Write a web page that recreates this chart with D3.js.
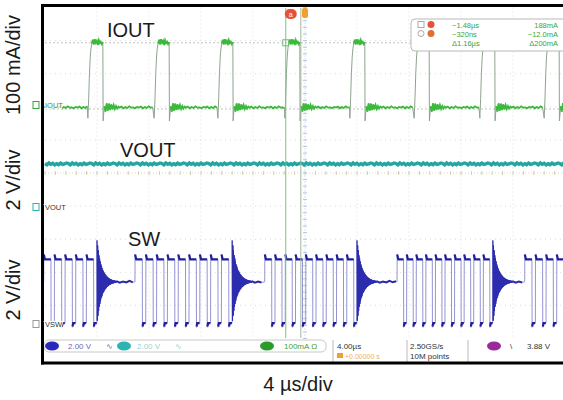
<!DOCTYPE html>
<html><head><meta charset="utf-8">
<script src="https://cdn.jsdelivr.net/npm/d3@7"></script>
<style>body{margin:0;background:#fff} svg{display:block}</style>
</head><body>
<svg id="c" width="563" height="400"></svg>
<script>
// ---------------- data ----------------
const timeDomain = [-20, 20];          // µs (10 div × 4 µs)
const divDomain = [-5, 5];             // vertical divisions
const axisLabels = ["100 mA/div", "2 V/div", "2 V/div"];
const xAxisLabel = "4 µs/div";
const traceNames = ["IOUT", "VOUT", "SW"];
const markerNames = ["IOUT", "VOUT", "VSW"];

// IOUT (mA)
const iPulseStart = [-16.7, -11.6, -6.7, -1.55, 3.45, 8.4, 13.45, 18.4];
const iPulseWidth = 1.15;
const iRiseProfile = [-40, 20, 95, 145, 172, 186];          // step 0.06 µs
const iTopNoise = [186, 197, 183, 199, 188, 194, 181, 196, 187, 191, 184, 190];
const iFallRing = [-48, -4, -20, 5, -17, 4, -15, 2, -13, 0, -12, -3, -11, -5]; // step 0.09 µs
const iBaseNoise = [-8, -5, -10, -6, -9, -4, -8, -7, -10, -6];

// VOUT (V)
const vLevel = 2.6;
const vNoise = [0.03, -0.05, 0.06, -0.02, 0.04, -0.06, 0.02, -0.04, 0.05, -0.03, 0.0, 0.06];

// SW (V)
const swBurstStart = [-20.1, -13.08, -3.1, 7.08, 16.9];
const swBurstEnd   = [-16.0, -5.6, 4.0, 14.45, 21.0];
const swPulseCount = [5, 9, 9, 10, 5];
const swHigh = 3.9, swLow = 0.05, swSettle = 2.55, swDuty = 0.68;
const swRingEnv = [2.5, 1.6, 1.05, 0.7, 0.48, 0.33, 0.22, 0.15, 0.1, 0.07, 0.05]; // step 0.15 µs
const swSettleNoise = [0.04, -0.05, 0.02, -0.04, 0.06, -0.03, 0.03, -0.06];

// cursors & readouts
const cursorT = [-1.48, -0.32];
const cursorI = [188, -12];
const cursorRows = [["−1.48µs", "188mA"], ["−320ns", "−12.0mA"], ["Δ1.16µs", "Δ200mA"]];
const statusText = ["2.00 V", "2.00 V", "100mA Ω", "4.00µs", "+0.00000 s", "2.50GS/s", "10M points", "3.88 V"];

// ---------------- scales ----------------
const svg = d3.select("#c");
const FONT = "'Liberation Sans', Arial, Helvetica, sans-serif";
const x = d3.scaleLinear().domain(timeDomain).range([45, 565]);
const yDiv = d3.scaleLinear().domain(divDomain).range([338.5, 7.5]);
const yI = d3.scaleLinear().domain([0, 100]).range([105, 105 - 33.1]);
const yV = d3.scaleLinear().domain([0, 2]).range([207, 207 - 33.1]);
const yS = d3.scaleLinear().domain([0, 2]).range([324, 324 - 33.1]);

svg.append("defs").append("clipPath").attr("id", "clip")
  .append("rect").attr("x", 44).attr("y", 7).attr("width", 520).attr("height", 332);

// ---------------- grid ----------------
const grid = svg.append("g");
d3.range(-16, 20, 4).forEach(t => {
  if (t === 0) return;
  grid.append("line").attr("x1", x(t)).attr("x2", x(t)).attr("y1", yDiv(5)).attr("y2", yDiv(-5))
    .attr("stroke", "#dadada").attr("stroke-dasharray", "1,3");
});
d3.range(-4, 5, 1).forEach(d => {
  if (d === 0) return;
  grid.append("line").attr("x1", x(-20)).attr("x2", x(20)).attr("y1", yDiv(d)).attr("y2", yDiv(d))
    .attr("stroke", "#dadada").attr("stroke-dasharray", "1,4");
});
grid.append("line").attr("x1", x(-20)).attr("x2", x(20)).attr("y1", yDiv(0)).attr("y2", yDiv(0))
  .attr("stroke", "#d8d8b0").attr("stroke-dasharray", "1,2");
grid.append("line").attr("x1", x(0)).attr("x2", x(0)).attr("y1", yDiv(5)).attr("y2", yDiv(-5))
  .attr("stroke", "#b8c8e0").attr("stroke-dasharray", "1,2");
d3.range(-20, 20.01, 0.8).forEach(t => grid.append("line").attr("x1", x(t)).attr("x2", x(t))
  .attr("y1", yDiv(0) - 2).attr("y2", yDiv(0) + 2).attr("stroke", "#d0d0b0"));
d3.range(-5, 5.01, 0.2).forEach(d => grid.append("line").attr("x1", x(0) - 2).attr("x2", x(0) + 2)
  .attr("y1", yDiv(d)).attr("y2", yDiv(d)).attr("stroke", "#b8c8e0"));

cursorI.forEach(v => grid.append("line").attr("x1", x(-20)).attr("x2", x(20))
  .attr("y1", yI(v)).attr("y2", yI(v)).attr("stroke", "#c4c4c4").attr("stroke-dasharray", "2,2"));

const traces = svg.append("g").attr("clip-path", "url(#clip)");
const line = d3.line().x(d => x(d[0]));

// ---------------- VOUT ----------------
const vPts = d3.range(timeDomain[0], timeDomain[1] + 0.2, 0.15).map((t, k) => [t, vLevel + vNoise[k % vNoise.length]]);
traces.append("path").attr("d", line.y(d => yV(d[1]))(vPts))
  .attr("fill", "none").attr("stroke", "#23a6a0").attr("stroke-width", 3.4);

// ---------------- IOUT ----------------
const iFull = [], iLevels = [];
let prevEnd = timeDomain[0] - 0.5, ringFromPrev = false;
function baselineTo(until) {
  const seg = [];
  let t = prevEnd;
  if (ringFromPrev) {
    iFull.push([t, iFallRing[0]]);
    for (let j = 1; j < iFallRing.length; j++) seg.push([t + j * 0.09, iFallRing[j]]);
    t += iFallRing.length * 0.09;
  }
  for (let m = 0; t < until - 0.02; t += 0.15, m++) seg.push([t, iBaseNoise[m % iBaseNoise.length]]);
  iFull.push(...seg); iLevels.push(seg);
}
iPulseStart.forEach(s => {
  baselineTo(s);
  iRiseProfile.forEach((v, j) => iFull.push([s + j * 0.06, v]));
  const tS = s + (iRiseProfile.length - 1) * 0.06, tE = s + iPulseWidth;
  const step = (tE - tS) / (iTopNoise.length - 1);
  const top = iTopNoise.map((v, j) => [tS + j * step, v]);
  iFull.push(...top); iLevels.push(top);
  prevEnd = tE + 0.02; ringFromPrev = true;
});
baselineTo(timeDomain[1] + 1);
traces.append("path").attr("d", line.y(d => yI(d[1]))(iFull))
  .attr("fill", "none").attr("stroke", "#8ea48e").attr("stroke-width", 1);
iLevels.forEach(seg => traces.append("path").attr("d", line.y(d => yI(d[1]))(seg))
  .attr("fill", "none").attr("stroke", "#39bb39").attr("stroke-width", 1.8));

// ---------------- SW ----------------
const sFull = [], sHighs = [], sLows = [], sRings = [], sSettles = [];
function env(t) {
  const k = t / 0.15, i = Math.floor(k);
  if (i >= swRingEnv.length - 1) return swRingEnv[swRingEnv.length - 1];
  return swRingEnv[i] + (swRingEnv[i + 1] - swRingEnv[i]) * (k - i);
}
swBurstStart.forEach((b, k) => {
  const e = swBurstEnd[k], n = swPulseCount[k], T = (e - b) / n;
  for (let j = 0; j < n; j++) {
    const p = b + j * T, f = p + swDuty * T;
    sFull.push([p, j === 0 ? swSettle : swLow], [p + 0.01, swHigh + 0.3], [p + 0.08, swHigh], [f, swHigh],
      [f + 0.01, swLow - 0.25], [f + 0.06, swLow], [p + T - 0.01, swLow]);
    sHighs.push([[p + 0.01, swHigh + 0.3], [p + 0.1, swHigh], [f, swHigh]]);
    sLows.push([[f + 0.02, swLow - 0.2], [f + 0.07, swLow], [p + T - 0.02, swLow]]);
  }
  const ringLen = (swRingEnv.length - 1) * 0.15, ring = [];
  for (let t = 0, sg = 1; t <= ringLen; t += 0.025, sg = -sg) ring.push([e + t, swSettle + sg * env(t)]);
  sFull.push(...ring); sRings.push(ring);
  const next = k + 1 < swBurstStart.length ? swBurstStart[k + 1] : timeDomain[1] + 1;
  const seg = [];
  for (let t = e + ringLen, m = 0; t < next - 0.05; t += 0.25, m++) seg.push([t, swSettle + swSettleNoise[m % swSettleNoise.length]]);
  sFull.push(...seg); sSettles.push(seg);
});
traces.append("path").attr("d", line.y(d => yS(d[1]))(sFull))
  .attr("fill", "none").attr("stroke", "#9494d4").attr("stroke-width", 1);
sRings.forEach(seg => traces.append("path").attr("d", line.y(d => yS(d[1]))(seg))
  .attr("fill", "none").attr("stroke", "#2c2cae").attr("stroke-width", 1));
[...sHighs, ...sLows].forEach(seg => traces.append("path").attr("d", line.y(d => yS(d[1]))(seg))
  .attr("fill", "none").attr("stroke", "#1f1f9a").attr("stroke-width", 2.2));
sSettles.forEach(seg => traces.append("path").attr("d", line.y(d => yS(d[1]))(seg))
  .attr("fill", "none").attr("stroke", "#2a2aa6").attr("stroke-width", 2));

// ---------------- vertical cursors ----------------
svg.append("line").attr("x1", x(cursorT[0])).attr("x2", x(cursorT[0])).attr("y1", 8).attr("y2", 338)
  .attr("stroke", "#7cc27c").attr("stroke-width", 1);
svg.append("line").attr("x1", x(cursorT[1])).attr("x2", x(cursorT[1])).attr("y1", 8).attr("y2", 338)
  .attr("stroke", "#9fb89f").attr("stroke-width", 1);
svg.append("rect").attr("x", x(cursorT[0]) - 3).attr("y", yI(cursorI[0]) - 3).attr("width", 6).attr("height", 6)
  .attr("fill", "none").attr("stroke", "#6cbf6c");
svg.append("rect").attr("x", x(cursorT[0]) - 1).attr("y", 9).attr("width", 12).attr("height", 10).attr("rx", 5)
  .attr("fill", "#e8503a");
svg.append("text").attr("x", x(cursorT[0]) + 5).attr("y", 17).attr("text-anchor", "middle")
  .attr("font-family", FONT).attr("font-size", 7).attr("fill", "#fff").text("a");
svg.append("rect").attr("x", x(0) - 3).attr("y", 8).attr("width", 6).attr("height", 10).attr("rx", 2)
  .attr("fill", "#f0a030");

// ---------------- cursor readout box ----------------
const box = svg.append("g");
box.append("rect").attr("x", 411).attr("y", 19).attr("width", 170).attr("height", 32).attr("rx", 4)
  .attr("fill", "#fff").attr("stroke", "#b8b8b8");
box.append("rect").attr("x", 418).attr("y", 21.5).attr("width", 6).attr("height", 6).attr("fill", "none").attr("stroke", "#aaa");
box.append("circle").attr("cx", 431).attr("cy", 24.5).attr("r", 3.5).attr("fill", "#e8503a");
box.append("circle").attr("cx", 421).attr("cy", 33.5).attr("r", 3).attr("fill", "none").attr("stroke", "#aaa");
box.append("circle").attr("cx", 431).attr("cy", 33.5).attr("r", 3.5).attr("fill", "#e07030");
cursorRows.forEach((r, i) => {
  box.append("text").attr("x", 452).attr("y", 27.5 + i * 9).attr("font-family", FONT).attr("font-size", 7.5)
    .attr("fill", "#3aa53a").text(r[0]);
  box.append("text").attr("x", 558).attr("y", 27.5 + i * 9).attr("text-anchor", "end").attr("font-family", FONT)
    .attr("font-size", 7.5).attr("fill", "#3aa53a").text(r[1]);
});

// ---------------- status bar ----------------
const sb = svg.append("g").attr("font-family", FONT).attr("font-size", 8);
sb.append("rect").attr("x", 44).attr("y", 340).attr("width", 282).attr("height", 12).attr("rx", 5)
  .attr("fill", "#fff").attr("stroke", "#c8c8c8");
sb.append("ellipse").attr("cx", 52).attr("cy", 346).attr("rx", 7).attr("ry", 4.5).attr("fill", "#2a2ab8");
sb.append("text").attr("x", 68).attr("y", 349).attr("fill", "#6a6ab0").text(statusText[0]);
sb.append("text").attr("x", 106).attr("y", 349).attr("fill", "#6a6ab0").text("∿");
sb.append("ellipse").attr("cx", 124).attr("cy", 346).attr("rx", 7).attr("ry", 4.5).attr("fill", "#2bb5b0");
sb.append("text").attr("x", 137).attr("y", 349).attr("fill", "#9ad0d0").text(statusText[1]);
sb.append("text").attr("x", 175).attr("y", 349).attr("fill", "#9ad0d0").text("∿");
sb.append("ellipse").attr("cx", 267).attr("cy", 346).attr("rx", 7).attr("ry", 4.5).attr("fill", "#2a9a2a");
sb.append("text").attr("x", 284).attr("y", 349).attr("fill", "#3aa53a").text(statusText[2]);
sb.append("line").attr("x1", 333).attr("x2", 333).attr("y1", 340).attr("y2", 362).attr("stroke", "#bbb");
sb.append("text").attr("x", 337).attr("y", 349).attr("fill", "#333").text(statusText[3]);
sb.append("rect").attr("x", 337).attr("y", 353).attr("width", 6).attr("height", 5).attr("fill", "#f0a030");
sb.append("text").attr("x", 345).attr("y", 358.5).attr("fill", "#f0b050").attr("font-size", 7).text(statusText[4]);
sb.append("line").attr("x1", 407).attr("x2", 407).attr("y1", 340).attr("y2", 362).attr("stroke", "#bbb");
sb.append("text").attr("x", 410).attr("y", 349).attr("fill", "#333").text(statusText[5]);
sb.append("text").attr("x", 410).attr("y", 359).attr("fill", "#333").text(statusText[6]);
sb.append("line").attr("x1", 468).attr("x2", 468).attr("y1", 340).attr("y2", 362).attr("stroke", "#bbb");
sb.append("ellipse").attr("cx", 494).attr("cy", 346).attr("rx", 7).attr("ry", 4.5).attr("fill", "#9a2a9a");
sb.append("text").attr("x", 510).attr("y", 349).attr("fill", "#333").text("\\");
sb.append("text").attr("x", 527).attr("y", 349).attr("fill", "#333").text(statusText[7]);

// ---------------- frame ----------------
svg.append("line").attr("x1", 42.5).attr("x2", 42.5).attr("y1", 4).attr("y2", 364.5).attr("stroke", "#000").attr("stroke-width", 3);
svg.append("line").attr("x1", 41).attr("x2", 563).attr("y1", 5.5).attr("y2", 5.5).attr("stroke", "#000").attr("stroke-width", 3);
svg.append("line").attr("x1", 41).attr("x2", 563).attr("y1", 363).attr("y2", 363).attr("stroke", "#000").attr("stroke-width", 3);

// ---------------- channel markers ----------------
const mk = [[yI(0), "#3aa53a", "#3f8a3f"], [yV(0), "#2bb5b0", "#333"], [yS(0), "#999", "#333"]];
mk.forEach((m, i) => {
  svg.append("rect").attr("x", 33).attr("y", m[0] - 3.5).attr("width", 6).attr("height", 7)
    .attr("fill", "#fff").attr("stroke", m[1]).attr("stroke-width", 1);
  svg.append("text").attr("x", 45).attr("y", m[0] + 2.5).attr("font-family", FONT).attr("font-size", 7.5)
    .attr("fill", m[2]).attr("stroke", "#fff").attr("stroke-width", 2).attr("paint-order", "stroke")
    .text(markerNames[i]);
});

// ---------------- labels ----------------
const lbl = svg.append("g").attr("font-family", FONT).attr("font-size", 20).attr("fill", "#1a1a1a");
lbl.append("text").attr("x", 107).attr("y", 37).text(traceNames[0]);
lbl.append("text").attr("x", 120).attr("y", 157).text(traceNames[1]);
lbl.append("text").attr("x", 128).attr("y", 246).text(traceNames[2]);
[65, 180, 290].forEach((cy, i) => lbl.append("text").attr("transform", `translate(20,${cy}) rotate(-90)`)
  .attr("text-anchor", "middle").attr("font-size", 20).text(axisLabels[i]));
lbl.append("text").attr("x", 298).attr("y", 391).attr("text-anchor", "middle").attr("font-size", 20).text(xAxisLabel);
</script>
</body></html>
